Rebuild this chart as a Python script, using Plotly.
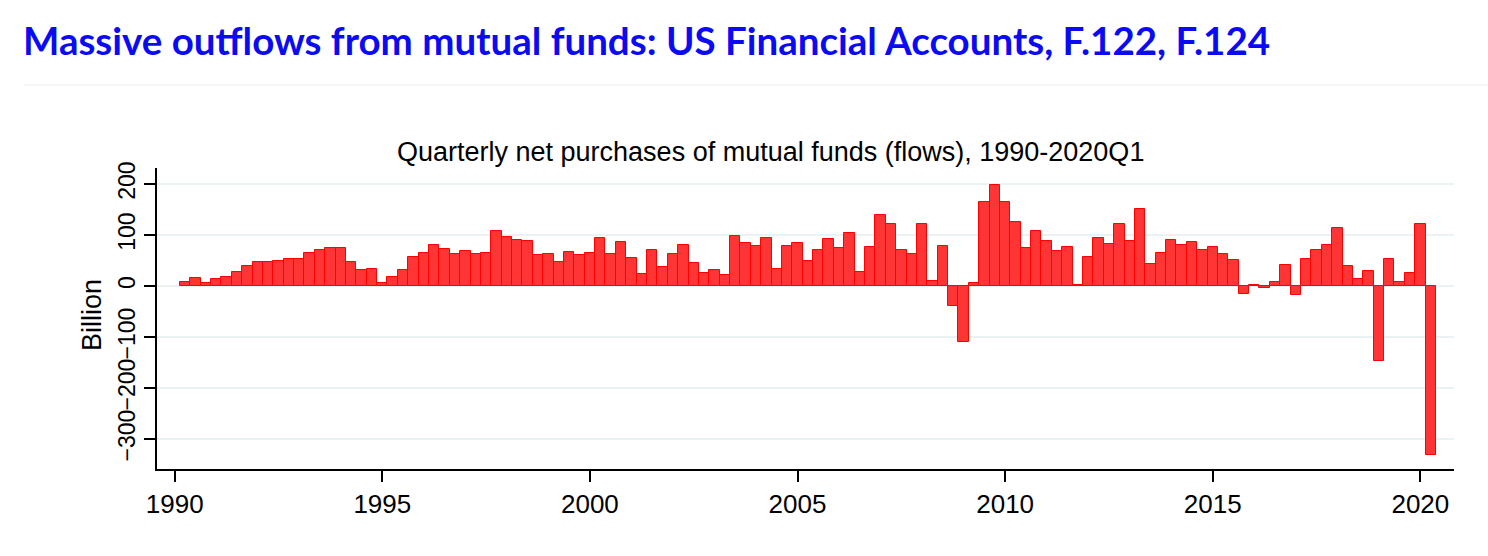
import plotly.graph_objects as go

# quarterly net purchases of mutual funds, billion, 1990Q1 .. 2020Q1
QUARTERS = [f'{y}Q{q}' for y in range(1990, 2021) for q in range(1, 5)][:121]
FLOWS = [
    8, 15, 6, 13, 18, 28, 40, 47, 48, 50, 53, 53, 64, 70, 75, 75, 47, 31, 34, 5,
    18, 32, 56, 64, 81, 73, 62, 69, 62, 65, 107, 97, 91, 89, 61, 62, 48, 67, 61, 65,
    94, 62, 87, 55, 24, 70, 37, 62, 81, 45, 26, 32, 21, 99, 85, 78, 94, 33, 78, 85,
    49, 70, 93, 75, 104, 28, 77, 140, 122, 70, 62, 122, 9, 78, -40, -109, 6, 164, 199, 165,
    126, 75, 108, 88, 69, 76, 2, 57, 95, 83, 121, 89, 151, 43, 64, 90, 81, 86, 70, 76,
    62, 51, -16, 2, -3, 8, 41, -17, 53, 71, 81, 114, 40, 14, 30, -147, 53, 8, 25, 121,
    -332,
]
X_TICKS = [1990, 1995, 2000, 2005, 2010, 2015, 2020]
Y_TICKS = [-300, -200, -100, 0, 100, 200]

# Stata-style date: end of quarter as a fraction of the year
x_pos = [int(s[:4]) + int(s[-1]) / 4 for s in QUARTERS]

W, H = 1488, 556
L, R, T, B = 157, 34, 168, 87
pw, ph = W - L - R, H - T - B


def px(x):
    return (x - L) / pw


def py(y):
    return (H - B - y) / ph


fig = go.Figure()
fig.add_trace(go.Bar(
    x=x_pos,
    y=FLOWS,
    width=0.25,
    marker={'color': '#ff3434', 'line': {'color': '#ff0000', 'width': 1}},
    hovertext=QUARTERS,
))

fig.update_layout(
    width=W,
    height=H,
    margin={'l': L, 'r': R, 't': T, 'b': B},
    paper_bgcolor='white',
    plot_bgcolor='white',
    showlegend=False,
    bargap=0,
    font={'family': 'Liberation Sans, Arial', 'color': 'black'},
    title={'text': '<b>Massive outflows from mutual funds: US Financial Accounts, F.122, F.124</b>',
           'font': {'family': 'Lato', 'size': 38.5, 'color': '#0a0af5'},
           'x': 23 / W, 'xanchor': 'left', 'xref': 'container',
           'y': 1 - 42 / H, 'yanchor': 'middle', 'yref': 'container'},
    xaxis={'range': [1989.574, 2020.81],
           'tickvals': X_TICKS,
           'ticks': 'outside', 'ticklen': 11, 'tickwidth': 1.5, 'tickcolor': 'black',
           'tickfont': {'size': 26},
           'showline': True, 'linecolor': 'black', 'linewidth': 1.5,
           'showgrid': False, 'zeroline': False},
    yaxis={'range': [-358.8, 231.4],
           'tickvals': Y_TICKS,
           'tickangle': -90,
           'ticks': 'outside', 'ticklen': 11, 'tickwidth': 1.5, 'tickcolor': 'black',
           'tickfont': {'size': 23},
           'showline': True, 'linecolor': 'black', 'linewidth': 1.5,
           'showgrid': True, 'gridcolor': '#eaf2f3', 'gridwidth': 2,
           'zeroline': False},
    annotations=[
        {'text': 'Quarterly net purchases of mutual funds (flows), 1990-2020Q1',
         'xref': 'paper', 'yref': 'paper', 'x': px(770), 'y': py(152),
         'xanchor': 'center', 'yanchor': 'middle', 'showarrow': False,
         'font': {'size': 27}},
        {'text': 'Billion', 'textangle': -90,
         'xref': 'paper', 'yref': 'paper', 'x': px(92), 'y': py(315),
         'xanchor': 'center', 'yanchor': 'middle', 'showarrow': False,
         'font': {'size': 27}},
    ],
    shapes=[
        {'type': 'line', 'xref': 'paper', 'yref': 'paper',
         'x0': px(24), 'x1': px(W), 'y0': py(85), 'y1': py(85),
         'line': {'color': '#eeeeee', 'width': 1}},
    ],
)

fig.write_html('out.html', config={'displayModeBar': False},
               post_script="document.body.style.margin='0';")
